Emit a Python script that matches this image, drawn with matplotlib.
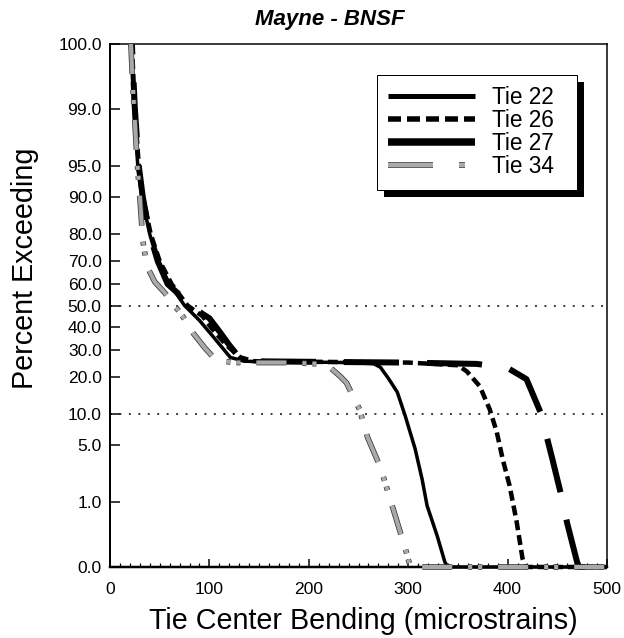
"""Percent exceeding vs tie center bending, Mayne - BNSF (probability scale)."""
from statistics import NormalDist

import matplotlib
matplotlib.use("Agg")
import matplotlib.pyplot as plt
import matplotlib.patheffects as pe
from matplotlib.lines import Line2D
from matplotlib.patches import Rectangle
from matplotlib.transforms import IdentityTransform
import numpy as np

# ---- data (percent exceeding, 0.1 == "0.0" on the axis)
tie22_x = [21, 24, 28, 32, 40, 48, 60, 75, 90, 105, 121, 135, 160, 200, 240,
           265, 272, 280, 289, 297, 307, 314, 319, 329, 337, 340, 500]
tie22_p = [99.9, 99, 95, 90, 80, 70, 60, 50, 43, 35, 27, 25.5, 25.3, 25.2, 25,
           24.6, 23.3, 19.5, 15.3, 9.6, 4.5, 2.0, 0.9, 0.33, 0.12, 0.1, 0.1]

tie26_x = [22, 25, 29, 33, 41, 50, 62, 78, 93, 103, 117, 131, 145, 200, 300,
           350, 359, 372, 382, 389, 395, 402, 409, 415, 418, 500]
tie26_p = [99.9, 99, 95, 90, 80, 70, 60, 50, 45, 39, 32, 27, 25.5, 25.3, 25,
           24, 21.8, 17, 11, 6.8, 3.5, 1.66, 0.54, 0.14, 0.1, 0.1]

tie27_x = [22, 25, 29, 33, 40, 48, 58, 70, 80, 90, 100, 110, 120, 130, 140,
           200, 300, 369, 390, 402, 419, 433, 445, 453, 460, 470, 472, 500]
tie27_p = [99.9, 99, 95, 90, 80, 70, 60, 55, 50, 47, 44, 38, 32, 27, 25.5,
           25.3, 25, 24.5, 23.5, 22.6, 19.2, 10.4, 3.5, 1.4, 0.5, 0.12, 0.1, 0.1]

tie34_x = [21, 23, 25, 27, 30, 33, 37, 45, 55, 65, 73, 84, 95, 104, 115, 125,
           150, 180, 210, 222, 232, 238, 251, 259, 272, 285, 299, 302, 500]
tie34_p = [99.9, 99.5, 98.5, 96, 90, 78, 68, 61, 56, 50, 45, 37, 31, 27, 25.5,
           25, 25, 25, 24.5, 23, 20, 18, 11, 6, 2.8, 0.8, 0.16, 0.1, 0.1]

ytick_vals = [0.1, 1, 5, 10, 20, 30, 40, 50, 60, 70, 80, 90, 95, 99, 99.9]
ytick_labels = ["0.0", "1.0", "5.0", "10.0", "20.0", "30.0", "40.0", "50.0",
                "60.0", "70.0", "80.0", "90.0", "95.0", "99.0", "100.0"]
ref_lines = [50, 10]
labels = ["Tie 22", "Tie 26", "Tie 27", "Tie 34"]

_nd = NormalDist()
_ppf = np.vectorize(_nd.inv_cdf, otypes=[float])
_cdf = np.vectorize(_nd.cdf, otypes=[float])


def prob_fwd(p):
    p = np.clip(np.asarray(p, dtype=float) / 100.0, 1e-4, 1 - 1e-4)
    return _ppf(p)


def prob_inv(z):
    return _cdf(np.asarray(z, dtype=float)) * 100.0


plt.rcParams["font.family"] = ["Liberation Sans", "DejaVu Sans"]
plt.rcParams["lines.scale_dashes"] = False

W, H = 624, 638
fig = plt.figure(figsize=(W / 100, H / 100), dpi=100)
ax = fig.add_axes([110 / W, (H - 567) / H, 497 / W, 523 / H])
ax.set_yscale("function", functions=(prob_fwd, prob_inv))
ax.set_xlim(0, 500)
ax.set_ylim(0.1, 99.9)

px = 0.72  # points per pixel
GRAY, EDGE = "#a9a9a9", "#3a3a3a"

# Tie 27 is broken into long dashes; line the phase up so a dash starts
# where the curve leaves the plateau (x = 402), as in the original.
pts = ax.transData.transform(np.column_stack([tie27_x, tie27_p]))
seg = np.hypot(*np.diff(pts, axis=0).T)
cum = np.concatenate([[0], np.cumsum(seg)])
on27, off27 = 55, 28
start = cum[tie27_x.index(402)]
offset27 = (-start) % (on27 + off27)

ax.plot(tie22_x, tie22_p, color="black", lw=3.5 * px, solid_capstyle="butt",
        clip_on=False, zorder=3)
ax.plot(tie26_x, tie26_p, color="black", lw=4.5 * px,
        dashes=(10 * px, 5 * px), dash_capstyle="butt", clip_on=False, zorder=3)
ax.plot(tie27_x, tie27_p, color="black", lw=6 * px,
        linestyle=(offset27 * px, (on27 * px, off27 * px)),
        dash_capstyle="butt", clip_on=False, zorder=3)
ax.plot(tie34_x, tie34_p, color=GRAY, lw=4 * px,
        dashes=(30 * px, 16 * px, 4 * px, 6 * px, 4 * px, 16 * px),
        dash_capstyle="butt", clip_on=False, zorder=4,
        path_effects=[pe.Stroke(linewidth=5.6 * px, foreground=EDGE), pe.Normal()])

for y in ref_lines:
    ax.axhline(y, color="black", lw=1.5 * px, linestyle=(0, (1.4, 5.4)), zorder=2)

ax.set_yticks(ytick_vals)
ax.set_yticklabels(ytick_labels)
ax.yaxis.set_minor_locator(matplotlib.ticker.NullLocator())
ax.set_xticks(np.arange(0, 501, 100))
ax.set_xticks(np.arange(0, 501, 10), minor=True)

ax.tick_params(axis="y", direction="in", length=10 * px, width=1.5 * px,
               pad=6, labelsize=12.6, right=False)
ax.tick_params(axis="x", which="major", direction="in", length=8 * px,
               width=1.5 * px, pad=11, labelsize=12.6, top=False)
ax.tick_params(axis="x", which="minor", direction="in", length=4 * px,
               width=1.2 * px, top=False)
for side, lw in [("left", 2), ("bottom", 2.5), ("top", 1.5), ("right", 1.5)]:
    ax.spines[side].set_linewidth(lw * px)

fig.text(330 / W, 1 - 19 / H, "Mayne - BNSF", ha="center", va="center",
         fontsize=16, fontweight="bold", fontstyle="italic")
fig.text(363 / W, 1 - 621 / H, "Tie Center Bending (microstrains)",
         ha="center", va="center", fontsize=20.7)
fig.text(25 / W, 1 - 268 / H, "Percent Exceeding", ha="center", va="center",
         rotation=90, fontsize=20.7)

handles = [
    Line2D([], [], color="black", lw=5 * px, solid_capstyle="butt"),
    Line2D([], [], color="black", lw=5.5 * px, dashes=(13 * px, 6 * px),
           dash_capstyle="butt"),
    Line2D([], [], color="black", lw=7.5 * px, solid_capstyle="butt"),
    Line2D([], [], color=GRAY, lw=4 * px, dashes=(45 * px, 26 * px, 6 * px, 90 * px),
           dash_capstyle="butt",
           path_effects=[pe.Stroke(linewidth=5.6 * px, foreground=EDGE), pe.Normal()]),
]
leg_box = ((377 - 110) / 497, (567 - 192) / 523, 200 / 497, 117 / 523)
leg = ax.legend(handles, labels, loc="upper left", bbox_to_anchor=leg_box,
                mode="expand", borderaxespad=0, fancybox=False, framealpha=1,
                edgecolor="black", fontsize=16.3, handlelength=3.85,
                handletextpad=0.75, labelspacing=0.0, borderpad=0.5)
leg.get_frame().set_linewidth(1.0 * px)
leg.set_zorder(6)

fig.canvas.draw()
bb = leg.get_window_extent()
ax.add_artist(Rectangle((bb.x0 + 7, bb.y0 - 7), bb.width, bb.height,
                        facecolor="black", edgecolor="none",
                        transform=IdentityTransform(), clip_on=False, zorder=5.5))

fig.savefig("out.png", dpi=100)
plt.close(fig)
